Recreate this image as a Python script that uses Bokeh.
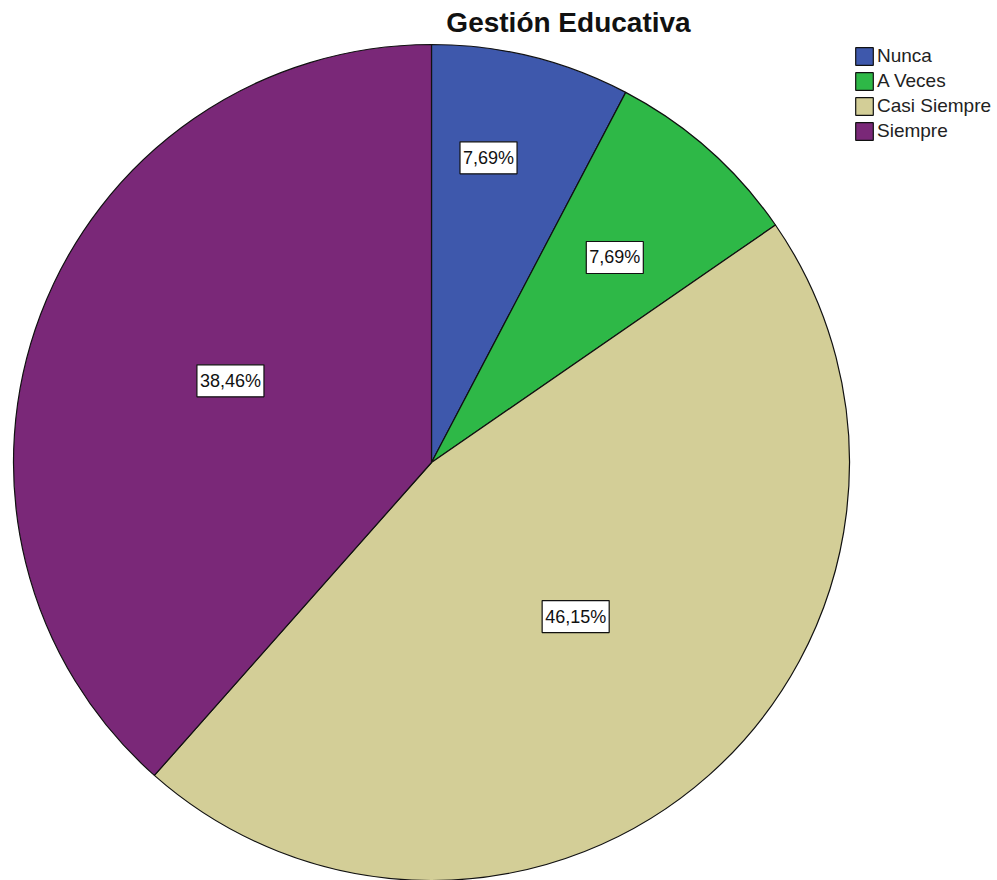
import math
from bokeh.plotting import figure
from bokeh.models import Range1d, Label, Legend, LegendItem, ColumnDataSource
from bokeh.embed import file_html
from bokeh.resources import INLINE

# ---- data ----
categories = ["Nunca", "A Veces", "Casi Siempre", "Siempre"]
percentages = [7.69, 7.69, 46.15, 38.46]
label_texts = ["7,69%", "7,69%", "46,15%", "38,46%"]
colors = ["#3e58ac", "#2eb847", "#d3ce97", "#7a2878"]

# ---- layout / style ----
W, H = 997, 880
CX, CY, R = 431, H - 462, 418
label_angle_deg = [79.4, 48.2, -46.9, 157.9]
label_radius = [310, 275, 211, 217]

p = figure(width=W, height=H, output_backend="svg", toolbar_location=None,
           x_range=Range1d(0, W), y_range=Range1d(0, H),
           min_border=0, min_border_left=0, min_border_right=0,
           min_border_top=0, min_border_bottom=0)
p.axis.visible = False
p.grid.visible = False
p.outline_line_color = None
p.background_fill_color = "white"
p.border_fill_color = "white"

total = sum(percentages)
starts, ends = [], []
cum = 0.0
for v in percentages:
    a0 = math.pi / 2 - 2 * math.pi * (cum + v) / total
    a1 = math.pi / 2 - 2 * math.pi * cum / total
    starts.append(a0)
    ends.append(a1)
    cum += v

items = []
for i, cat in enumerate(categories):
    src = ColumnDataSource(dict(x=[CX], y=[CY], s=[starts[i]], e=[ends[i]]))
    r = p.wedge(x="x", y="y", radius=R, start_angle="s", end_angle="e",
                source=src, fill_color=colors[i], line_color="#111111",
                line_width=1.2)
    items.append(LegendItem(label=cat, renderers=[r]))

for i, t in enumerate(label_texts):
    ang = math.radians(label_angle_deg[i])
    lx = CX + label_radius[i] * math.cos(ang)
    ly = CY + label_radius[i] * math.sin(ang)
    p.add_layout(Label(x=lx, y=ly, text=t, text_align="center",
                       text_baseline="middle", text_font="Liberation Sans",
                       text_font_size="18px", text_color="#111111",
                       background_fill_color="white",
                       border_line_color="#111111", border_line_width=1.2,
                       padding=dict(left=3, right=3, top=6, bottom=6)))

p.add_layout(Label(x=568, y=H - 22, text="Gestión Educativa",
                   text_align="center", text_baseline="middle",
                   text_font="Liberation Sans", text_font_style="bold",
                   text_font_size="28px", text_color="#111111"))

legend = Legend(items=items, location=(853, 738),
                glyph_width=22, glyph_height=22, label_height=22,
                spacing=3, label_standoff=2, padding=0, margin=0,
                border_line_color=None, background_fill_alpha=0,
                label_text_font="Liberation Sans", label_text_font_size="19px",
                label_text_color="#222222")
p.add_layout(legend)

open("out.html", "w").write(file_html(p, INLINE))
